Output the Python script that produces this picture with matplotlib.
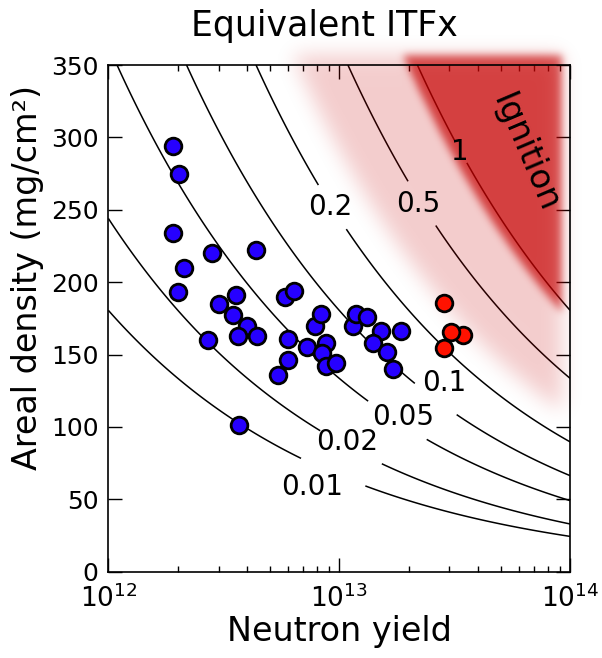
import matplotlib
matplotlib.use("Agg")
import matplotlib.pyplot as plt
import numpy as np

# ITFx ~ Y * rhoR^2.3 (rhoR in mg/cm^2), normalisation
ITFX_EXP = 2.3
ITFX_LOGNORM = -19.19
levels = [0.01, 0.02, 0.05, 0.1, 0.2, 0.5, 1.0]

# where each curve is broken for its label, and where the label text sits
gap_yield = [9.4e12, 1.14e13, 1.77e13, 2.6e13, 9.2e12, 2.26e13, 3.31e13]
gap_rhor = [68.5, 87.7, 103.6, 118.6, 251.2, 254, 289.6]
label_yield = [7.62e12, 1.084e13, 1.884e13, 2.84e13, 9.16e12, 2.20e13, 3.34e13]
label_rhor = [58.7, 89.8, 107.1, 130.6, 251.7, 254, 290.1]

# shots below ignition threshold
blue_yield = [1.90e12, 2.03e12, 1.90e12, 2.81e12, 4.36e12, 2.13e12, 2.00e12,
              3.00e12, 3.56e12, 3.46e12, 4.00e12, 3.64e12, 4.42e12, 2.69e12,
              3.68e12, 5.83e12, 6.39e12, 7.86e12, 8.34e12, 6.02e12, 7.23e12,
              8.77e12, 8.40e12, 6.02e12, 5.45e12, 8.77e12, 9.69e12, 1.152e13,
              1.183e13, 1.316e13, 1.514e13, 1.853e13, 1.406e13, 1.607e13,
              1.706e13]
blue_rhor = [294, 275, 234, 220, 222, 210, 193, 185, 191, 177, 170, 163, 163,
             160, 101, 190, 194, 170, 178, 161, 155, 158, 151, 146, 136, 142,
             144, 170, 178, 176, 166, 166, 158, 152, 140]

# best shots
red_yield = [3.43e13, 3.05e13, 2.83e13, 2.85e13]
red_rhor = [163.5, 165.8, 154.7, 185.8]


def itfx(y, rhor):
    return 10.0 ** (np.log10(y) + ITFX_LOGNORM) * rhor ** ITFX_EXP


def gblur(a, s):
    r = int(3 * s) + 1
    k = np.exp(-0.5 * (np.arange(-r, r + 1) / s) ** 2)
    k /= k.sum()
    a = np.apply_along_axis(lambda m: np.convolve(m, k, mode="same"), 0, a)
    a = np.apply_along_axis(lambda m: np.convolve(m, k, mode="same"), 1, a)
    return a


plt.rcParams["font.family"] = "DejaVu Sans"
plt.rcParams["xtick.direction"] = "in"
plt.rcParams["ytick.direction"] = "in"
plt.rcParams["xtick.top"] = True
plt.rcParams["ytick.right"] = True

fig = plt.figure(figsize=(6.02, 6.58), dpi=100)
ax = fig.add_axes([0.180, 0.1312, 0.767, 0.770])
ax.set_xscale("log")

# contour lines
yy = np.logspace(12, 14, 400)
rr = np.linspace(0.5, 350, 400)
Y, R = np.meshgrid(yy, rr)
cs = ax.contour(Y, R, itfx(Y, R), levels=levels, colors="black",
                linewidths=1.1, zorder=2)
labels = ax.clabel(cs, fmt=lambda v: f"{v:g}", fontsize=20, inline=True,
                   inline_spacing=4,
                   manual=list(zip(gap_yield, gap_rhor)))
# put each label text where it sits in the original, upright
for t in labels:
    lev = float(t.get_text())
    i = int(np.argmin([abs(lev - l) for l in levels]))
    t.set_position((label_yield[i], label_rhor[i]))
    t.set_rotation(0)
    t.set_zorder(4)

# blurred ignition region (axes-fraction grid, ~1 px per cell)
u = np.linspace(0.2, 1.08, int(0.88 * 462))
v = np.linspace(0.0, 1.10, int(1.10 * 507))
U, V = np.meshgrid(u, v)
val = itfx(10.0 ** (12 + 2 * U), 350 * V)
inside = (U <= 0.9805) & (V <= 1.02)
pink = gblur(0.2 * ((val >= 0.3) & inside), 10)
dark = gblur(0.55 * ((val >= 0.9) & inside), 4)
rgba = np.zeros(U.shape + (4,))
rgba[..., 0] = 0.78
rgba[..., 3] = np.clip(pink + dark, 0, 1)
ax.imshow(rgba, origin="lower", extent=[u[0], u[-1], v[0], v[-1]],
          transform=ax.transAxes, aspect="auto", interpolation="bilinear",
          clip_on=False, zorder=2.4)

ax.plot(blue_yield, blue_rhor, "o", ms=12, mfc="#2600ff", mec="black",
        mew=2, zorder=3)
ax.plot(red_yield, red_rhor, "o", ms=12, mfc="#ff1200", mec="black",
        mew=2, zorder=3)

ax.text(6.4e13, 289, "Ignition", fontsize=24, rotation=-67, ha="center",
        va="center", rotation_mode="anchor", zorder=4)

ax.set_xlim(1e12, 1e14)
ax.set_ylim(0, 350)
ax.set_yticks(np.arange(0, 351, 50))
ax.tick_params(which="major", length=10, width=1, labelsize=18, pad=7)
ax.tick_params(which="minor", length=4.5, width=1)
ax.tick_params(axis="x", which="major", labelsize=19, pad=9)
for s in ax.spines.values():
    s.set_linewidth(1.2)

ax.set_xlabel("Neutron yield", fontsize=24, labelpad=2)
fig.text(28 / 602, 1 - 277 / 658, "Areal density (mg/cm²)", fontsize=24,
         rotation=90, ha="center", va="center")
fig.text(324 / 602, 1 - 26 / 658, "Equivalent ITFx", fontsize=25,
         ha="center", va="center")

fig.savefig("out.png", dpi=100)
